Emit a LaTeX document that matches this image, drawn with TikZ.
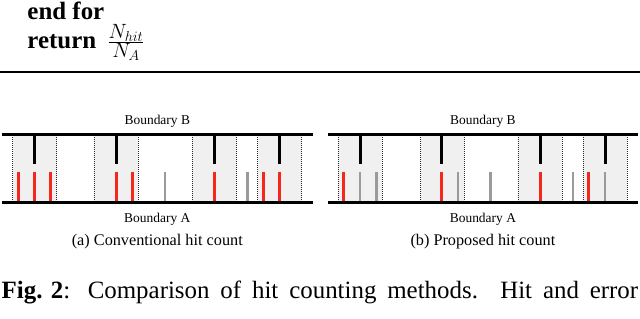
\documentclass[tikz,border=0pt]{standalone}
\usepackage{fontspec}
\setmainfont{Liberation Serif}[BoldFont=Liberation Serif Bold]
\definecolor{hitred}{HTML}{F5261A}
\definecolor{missgray}{HTML}{9A9A9A}
\definecolor{shadefill}{HTML}{F0F0F0}
\begin{document}
\begin{tikzpicture}[x=1bp,y=-1bp,
  boundary/.style={line width=3bp,black},
  sepline/.style={line width=0.6bp,gray!35!black,dash pattern=on 1bp off 1bp},
  bhit/.style={line width=3bp,black},
  redbar/.style={line width=3bp,hitred},
  graybar/.style={line width=2.6bp,missgray},
  lbl/.style={inner sep=0,anchor=base,font=\fontsize{13.5}{16}\selectfont},
  subcap/.style={inner sep=0,anchor=base,font=\fontsize{16.3}{19}\selectfont},
  bigtext/.style={inner sep=0,anchor=base west,font=\fontsize{25}{30}\selectfont}]
\useasboundingbox (0,0) rectangle (640,318);

% algorithm tail
\node[bigtext] (endfor) at (27.3,19) {\textbf{end for}};
\node[bigtext] (ret) at (27.3,48.5) {\textbf{return}\hspace{0.45em}{\fontsize{30}{32}\selectfont$\frac{N_{hit}}{N_A}$}};
\coordinate (ruleL) at (0,72);
\coordinate (ruleR) at (640,72);
\draw[line width=1.5bp] (ruleL) -- (ruleR);

% ---------- panel (a) ----------
\begin{scope}
  \foreach \a/\b in {12.7/56.7,94.3/138.3,192.3/236.7,257.7/301.7}
    \fill[shadefill] (\a,134.8) rectangle (\b,202.5);
  \foreach \x in {12.7,56.7,94.3,138.3,192.3,236.7,257.7,301.7}
    \draw[sepline] (\x,134.8) -- (\x,202.5);
  \foreach \x in {34.5,116,214.5,279.5}
    \draw[bhit] (\x,134.8) -- (\x,164.3);
  \foreach \x/\s in {18.3/redbar,34.5/redbar,50.7/redbar,116/redbar,132.5/redbar,165/graybar,214.5/redbar,247.3/graybar,263.3/redbar,279.5/redbar}
    \draw[\s] (\x,171.7) -- (\x,202.5);
  \coordinate (aBl) at (2,134.8);  \coordinate (aBr) at (312.7,134.8);
  \coordinate (aAl) at (2,202.5);  \coordinate (aAr) at (312.7,202.5);
  \draw[boundary] (aBl) -- (aBr);
  \draw[boundary] (aAl) -- (aAr);
  \node[lbl] (aB) at (157.3,124.3) {Boundary B};
  \node[lbl] (aA) at (157.3,222.8) {Boundary A};
  \node[subcap] (acap) at (157.3,245.3) {(a) Conventional hit count};
\end{scope}

% ---------- panel (b) ----------
\begin{scope}[xshift=325.6bp]
  \foreach \a/\b in {12.7/56.7,94.3/138.3,192.3/236.7,257.7/301.7}
    \fill[shadefill] (\a,134.8) rectangle (\b,202.5);
  \foreach \x in {12.7,56.7,94.3,138.3,192.3,236.7,257.7,301.7}
    \draw[sepline] (\x,134.8) -- (\x,202.5);
  \foreach \x in {34.5,116,214.5,279.5}
    \draw[bhit] (\x,134.8) -- (\x,164.3);
  \foreach \x/\s in {18.3/redbar,34.5/graybar,50.7/graybar,116/redbar,132.5/graybar,165/graybar,214.5/redbar,247.3/graybar,263.3/redbar,279.5/graybar}
    \draw[\s] (\x,171.7) -- (\x,202.5);
  \coordinate (bBl) at (2,134.8);  \coordinate (bBr) at (312.7,134.8);
  \coordinate (bAl) at (2,202.5);  \coordinate (bAr) at (312.7,202.5);
  \draw[boundary] (bBl) -- (bBr);
  \draw[boundary] (bAl) -- (bAr);
  \node[lbl] (bB) at (157.3,124.3) {Boundary B};
  \node[lbl] (bA) at (157.3,222.8) {Boundary A};
  \node[subcap] (bcap) at (157.3,245.3) {(b) Proposed hit count};
\end{scope}

% figure caption
\node[bigtext] (figcap) at (1.5,298.3)
  {\hbox to 636.5bp{\mbox{\textbf{Fig. 2}}: Comparison of hit counting methods. Hit and error}};
\end{tikzpicture}
\end{document}
